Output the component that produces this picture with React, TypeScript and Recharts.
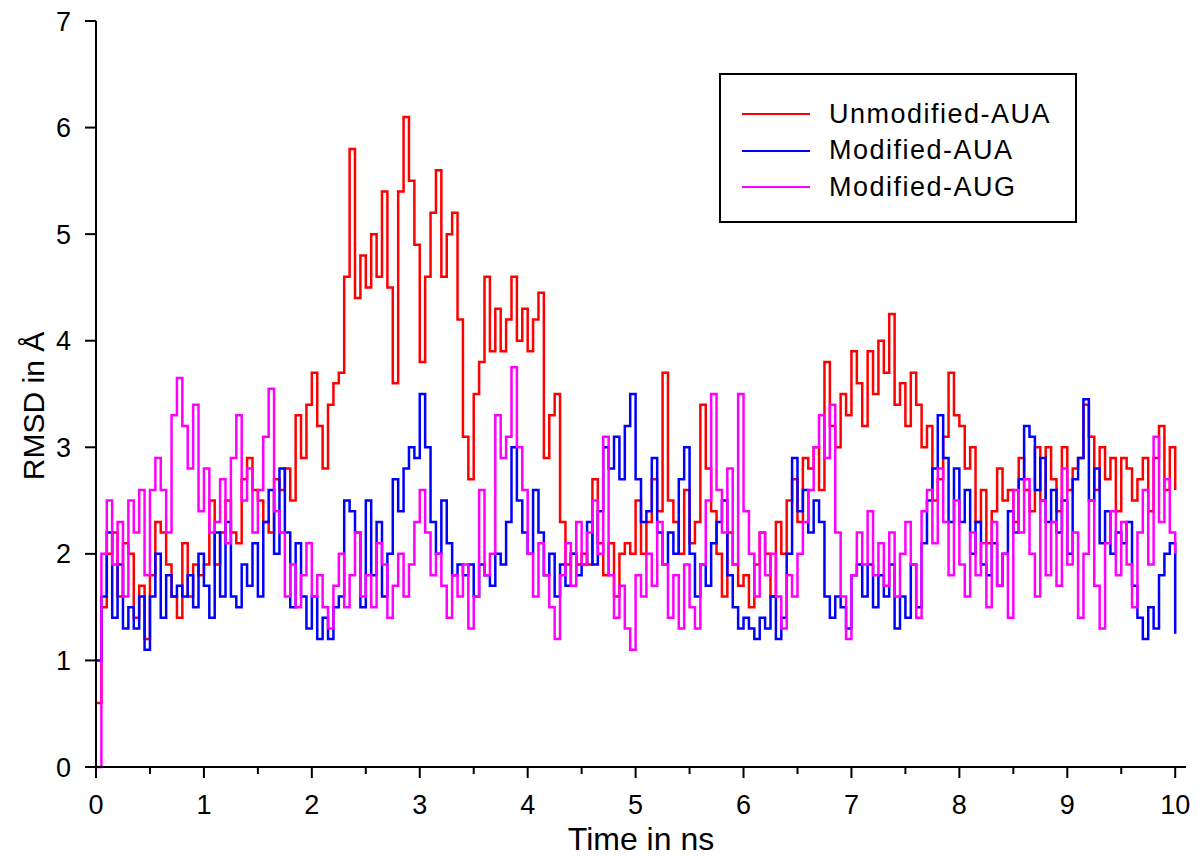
import { LineChart, Line, XAxis, YAxis, Legend, Label } from 'recharts';

// sampling interval of the trajectories, ns
const STEP = 0.05;

const seriesNames = ['Unmodified-AUA', 'Modified-AUA', 'Modified-AUG'];
const seriesColors = ['#ff0000', '#0000ff', '#ff00ff'];

const xTicks = [0, 0.5, 1, 1.5, 2, 2.5, 3, 3.5, 4, 4.5, 5, 5.5, 6, 6.5, 7, 7.5, 8, 8.5, 9, 9.5, 10];
const yTicks = [0, 1, 2, 3, 4, 5, 6, 7];

// RMSD (Å), one value every STEP ns from 0 to 10 ns
const unmodifiedAUA = [
  0.6, 1.5, 2.0, 2.2, 1.6, 2.1, 2.0, 1.4, 1.7, 1.2, 1.8, 2.3, 2.2, 1.9, 1.6, 1.4, 2.1, 1.6, 1.9, 1.8,
  1.9, 2.5, 1.9, 2.2, 2.5, 2.2, 2.1, 2.7, 2.9, 2.6, 2.5, 2.3, 2.2, 2.7, 2.6, 2.8, 2.5, 3.3, 2.9, 3.4,
  3.7, 3.2, 2.8, 3.4, 3.6, 3.7, 4.6, 5.8, 4.4, 4.8, 4.5, 5.0, 4.6, 5.4, 4.5, 3.6, 5.4, 6.1, 5.5, 4.9,
  3.8, 4.6, 5.2, 5.6, 4.6, 5.0, 5.2, 4.2, 3.1, 2.7, 3.5, 3.8, 4.6, 3.9, 4.3, 3.9, 4.2, 4.6, 4.0, 4.3,
  3.9, 4.2, 4.45, 2.9, 3.3, 3.5, 2.3, 1.9, 2.0, 1.9, 2.0, 1.9, 2.7, 2.1, 1.8, 2.1, 1.6, 2.0, 2.1, 2.0,
  2.5, 2.0, 2.3, 2.7, 2.4, 3.7, 2.5, 2.3, 2.0, 2.6, 2.1, 2.3, 3.4, 2.8, 2.4, 2.0, 1.6, 2.2, 1.9, 1.7,
  1.8, 1.5, 1.9, 2.2, 2.0, 1.6, 2.3, 2.0, 2.5, 2.7, 2.3, 2.9, 2.8, 3.0, 2.6, 3.8, 3.2, 3.0, 3.5, 3.3,
  3.9, 3.6, 3.2, 3.9, 3.5, 4.0, 3.7, 4.25, 3.4, 3.6, 3.2, 3.7, 3.4, 3.0, 3.2, 2.5, 2.7, 3.1, 3.7, 3.3,
  3.2, 2.8, 3.0, 2.3, 2.6, 2.1, 2.4, 2.8, 2.5, 2.6, 2.3, 2.9, 2.6, 2.4, 3.0, 2.5, 3.0, 2.7, 2.4, 3.0,
  2.6, 2.8, 2.9, 3.4, 3.1, 2.6, 3.0, 2.7, 2.9, 2.4, 2.9, 2.8, 2.5, 2.7, 2.9, 2.4, 2.9, 3.2, 2.6, 3.0,
  2.6,
];

const modifiedAUA = [
  1.0, 1.6, 2.2, 1.4, 1.9, 1.3, 1.5, 1.3, 1.6, 1.1, 1.6, 2.0, 1.4, 1.8, 1.6, 1.7, 1.6, 1.8, 1.5, 2.0,
  1.7, 1.4, 2.2, 1.6, 2.3, 1.6, 1.5, 1.9, 1.7, 2.1, 1.6, 2.3, 2.6, 2.0, 2.8, 2.2, 1.5, 2.1, 1.6, 1.3,
  1.6, 1.2, 1.4, 1.2, 1.5, 1.6, 2.5, 2.4, 2.2, 1.5, 2.5, 1.8, 2.3, 1.6, 2.0, 2.7, 2.4, 2.8, 3.0, 2.9,
  3.5, 3.0, 2.3, 2.0, 2.5, 2.1, 1.8, 1.9, 1.8, 1.9, 1.6, 1.9, 1.8, 1.7, 2.0, 1.9, 2.3, 3.0, 2.5, 2.2,
  2.0, 2.6, 2.2, 1.8, 2.0, 1.6, 1.9, 1.7, 2.0, 1.8, 1.9, 2.3, 1.9, 2.4, 3.0, 2.8, 3.1, 2.7, 3.2, 3.5,
  2.7, 2.3, 2.4, 2.9, 2.2, 1.9, 2.2, 2.0, 2.7, 3.0, 2.0, 1.6, 1.9, 1.7, 2.1, 2.3, 2.5, 1.8, 1.5, 1.3,
  1.4, 1.3, 1.2, 1.4, 1.3, 1.6, 1.2, 1.4, 2.0, 2.9, 2.4, 2.6, 2.2, 2.5, 2.3, 1.6, 1.4, 1.6, 1.5, 1.3,
  1.8, 1.9, 1.6, 1.9, 1.5, 1.8, 1.6, 1.9, 1.3, 1.6, 1.4, 1.9, 1.5, 2.1, 2.5, 2.8, 3.3, 2.9, 2.3, 2.8,
  2.3, 2.6, 2.0, 2.3, 1.9, 1.8, 2.1, 1.7, 2.0, 2.4, 2.2, 2.7, 3.2, 3.1, 2.6, 2.9, 2.3, 2.6, 2.2, 2.5,
  2.0, 2.7, 2.9, 3.45, 2.5, 2.8, 2.1, 2.4, 2.0, 2.2, 2.1, 2.3, 1.7, 1.4, 1.2, 1.5, 1.3, 1.8, 2.0, 2.1,
  1.25,
];

const modifiedAUG = [
  0.0, 2.0, 2.5, 1.9, 2.3, 1.6, 2.5, 2.2, 2.6, 1.8, 2.6, 2.9, 2.6, 2.2, 3.3, 3.65, 3.2, 2.8, 3.4, 2.4,
  2.8, 2.2, 2.3, 2.7, 2.1, 2.9, 3.3, 2.5, 2.8, 2.2, 2.6, 3.1, 3.55, 2.4, 2.2, 1.6, 1.9, 1.5, 1.8, 2.1,
  1.6, 1.8, 1.5, 1.3, 1.7, 2.0, 1.5, 1.8, 2.2, 1.6, 1.8, 1.5, 2.1, 1.9, 1.4, 1.7, 2.0, 1.6, 1.9, 2.3,
  2.6, 2.2, 1.8, 2.0, 1.7, 1.4, 1.8, 1.6, 1.9, 1.3, 1.6, 2.6, 1.8, 2.0, 3.3, 2.9, 3.1, 3.75, 3.0, 2.6,
  2.0, 1.6, 2.1, 1.8, 1.5, 1.2, 1.8, 2.1, 1.7, 2.3, 1.9, 2.2, 2.5, 2.0, 3.1, 1.8, 1.4, 1.7, 1.3, 1.1,
  1.8, 1.6, 2.0, 1.7, 2.3, 1.9, 1.4, 1.8, 1.3, 1.9, 1.5, 1.3, 1.9, 2.5, 3.5, 2.6, 2.2, 2.8, 1.9, 3.5,
  2.4, 2.0, 1.6, 2.2, 1.8, 2.0, 1.6, 1.3, 1.8, 1.6, 2.0, 2.3, 2.6, 3.0, 3.3, 2.9, 3.4, 2.2, 1.6, 1.2,
  1.8, 2.2, 1.9, 2.4, 1.8, 2.1, 1.7, 2.2, 1.6, 2.0, 2.3, 1.9, 1.4, 2.4, 2.6, 2.1, 2.8, 2.3, 1.8, 2.5,
  1.9, 1.6, 2.2, 1.8, 2.1, 1.5, 2.3, 1.7, 2.0, 1.4, 2.6, 2.2, 2.7, 2.0, 1.6, 2.5, 1.8, 2.3, 1.7, 2.8,
  1.9, 2.2, 1.4, 2.0, 2.5, 1.7, 1.3, 2.1, 2.4, 1.8, 2.3, 1.9, 1.5, 2.2, 2.6, 1.9, 3.1, 2.3, 2.7, 2.2,
  2.0,
];

const data = unmodifiedAUA.map((v, i) => ({
  t: Math.round(i * STEP * 100) / 100,
  unmodifiedAUA: v,
  modifiedAUA: modifiedAUA[i],
  modifiedAUG: modifiedAUG[i],
}));

const seriesKeys = ['unmodifiedAUA', 'modifiedAUA', 'modifiedAUG'];

const FONT = '"Liberation Sans", Arial, sans-serif';

function XTick({ x, y, payload }: any) {
  const major = Number.isInteger(payload.value);
  return (
    <g>
      <line x1={x} x2={x} y1={y} y2={y + (major ? 11 : 7)} stroke="#000" strokeWidth={2} />
      {major && (
        <text x={x} y={y + 40} textAnchor="middle" dominantBaseline="middle" fontSize={27} fill="#000" fontFamily={FONT}>
          {payload.value}
        </text>
      )}
    </g>
  );
}

function LegendBox() {
  return (
    <div
      style={{
        width: 358,
        height: 150,
        boxSizing: 'border-box',
        border: '2px solid #000',
        background: '#fff',
        paddingTop: 21,
        fontFamily: FONT,
      }}
    >
      {seriesNames.map((name, i) => (
        <div key={name} style={{ display: 'flex', alignItems: 'center', height: 36.5 }}>
          <div style={{ marginLeft: 21, width: 68, height: 2, background: seriesColors[i] }} />
          <span style={{ marginLeft: 19, fontSize: 27, letterSpacing: 1.5, color: '#000' }}>{name}</span>
        </div>
      ))}
    </div>
  );
}

export default function App() {
  return (
    <div style={{ position: 'absolute', left: 0, top: 0, background: '#fff' }}>
      <LineChart width={1199} height={860} data={data} margin={{ top: 21, right: 13, left: 0, bottom: 0 }}>
        <XAxis
          dataKey="t"
          type="number"
          domain={[0, 10.1]}
          ticks={xTicks}
          interval={0}
          allowDataOverflow
          height={93}
          tickSize={0}
          tickMargin={0}
          tickLine={false}
          tick={<XTick />}
          axisLine={{ stroke: '#000', strokeWidth: 2 }}
        >
          <Label value="Time in ns" position="insideBottom" offset={10} fontSize={32} fill="#000" fontFamily={FONT} />
        </XAxis>
        <XAxis
          xAxisId="top"
          orientation="top"
          type="number"
          domain={[0, 10.1]}
          height={0}
          tick={false}
          tickLine={false}
          axisLine={{ stroke: '#000', strokeWidth: 2 }}
        />
        <YAxis
          type="number"
          domain={[0, 7]}
          ticks={yTicks}
          interval={0}
          width={96}
          tickSize={11}
          tickMargin={14}
          tickLine={{ stroke: '#000', strokeWidth: 2 }}
          axisLine={{ stroke: '#000', strokeWidth: 2 }}
          tick={{ fill: '#000', fontSize: 27, fontFamily: FONT }}
        >
          <Label value="RMSD in Å" angle={-90} position="center" dx={-15} dy={12} fontSize={30} fill="#000" fontFamily={FONT} />
        </YAxis>
        <YAxis
          yAxisId="right"
          orientation="right"
          type="number"
          domain={[0, 7]}
          width={0}
          tick={false}
          tickLine={false}
          axisLine={{ stroke: '#000', strokeWidth: 2 }}
        />
        <Legend
          layout="vertical"
          align="center"
          verticalAlign="middle"
          content={<LegendBox />}
          wrapperStyle={{ left: 719, top: 73, width: 358, height: 150 }}
        />
        {seriesKeys.map((k, i) => (
          <Line
            key={k}
            dataKey={k}
            name={seriesNames[i]}
            stroke={seriesColors[i]}
            strokeWidth={2.5}
            dot={false}
            type="stepAfter"
            isAnimationActive={false}
          />
        ))}
      </LineChart>
    </div>
  );
}
